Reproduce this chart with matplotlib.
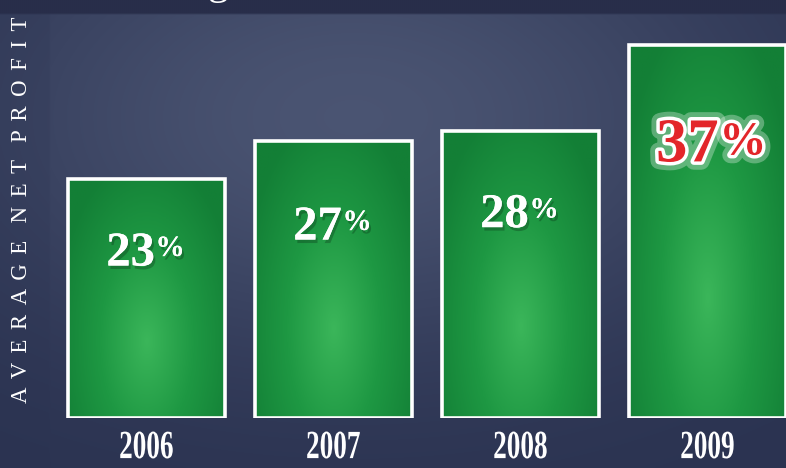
import numpy as np
import matplotlib
matplotlib.use("Agg")
import matplotlib.pyplot as plt
import matplotlib.patheffects as pe
from matplotlib.colors import LinearSegmentedColormap
from matplotlib.textpath import TextPath
from matplotlib.patches import PathPatch
from matplotlib.font_manager import FontProperties
from matplotlib.transforms import Affine2D, ScaledTranslation

years = ["2006", "2007", "2008", "2009"]
profit = [23, 27, 28, 37]
ylabel = "AVERAGE NET PROFIT"

W, H = 786, 468
fig = plt.figure(figsize=(W / 100, H / 100), dpi=100)

# navy background with soft lighter patch
bg = fig.add_axes([0, 0, 1, 1], zorder=0)
yy, xx = np.mgrid[0:1:234j, 0:1:393j]   # yy=0 at top
base = np.array([42, 50, 80]) / 255.
light = np.array([76, 86, 116]) / 255.
glow = np.exp(-((xx - 0.45) ** 2 / 0.25 + (yy - 0.25) ** 2 / 0.25))
glow = np.clip(glow, 0, 1) * 0.95
img = base + glow[..., None] * (light - base)
img[:, :int(393 * 50 / W)] = img[:, :int(393 * 50 / W)] * 0.8 + 0.2 * base
img[:int(234 * 14 / H)] = np.array([40, 46, 74]) / 255.
bg.imshow(img, extent=[0, 1, 0, 1], aspect="auto", origin="upper",
          interpolation="bilinear")
bg.axis("off")

base_v = -1.8          # axis baseline (bars start a little below 0)
ppu = 9.62             # pixels per percentage point
ax = fig.add_axes([53 / W, 50 / H, 733 / W, 418 / H], zorder=1)
ax.axis("off")

x = np.arange(len(years))
bw = 0.84
heights = [v - base_v for v in profit]
bars = ax.bar(x, heights, bottom=base_v, width=bw, facecolor="none",
              edgecolor="white", linewidth=2.6, zorder=3)

gcmap = LinearSegmentedColormap.from_list("g", ["#137f36", "#1e9843", "#3bb65a"])
gy, gx = np.mgrid[0:1:120j, 0:1:100j]   # gy=0 at top of bar
for xi, v, b in zip(x, profit, bars):
    r = np.sqrt(((gx - 0.5) / 0.6) ** 2 + ((gy - 0.68) / 0.8) ** 2)
    g = np.clip(1 - r, 0, 1)
    im = ax.imshow(g, cmap=gcmap, vmin=0, vmax=1, origin="upper",
                   extent=[xi - bw / 2, xi + bw / 2, base_v, v], aspect="auto", zorder=2)
    im.set_clip_path(b)

ax.set_xlim(-0.5, -0.5 + 733 / 187)
ax.set_ylim(base_v, base_v + 418 / ppu)

serif = ["Liberation Serif", "DejaVu Serif"]
shadow = [pe.withSimplePatchShadow(offset=(1.5, -2.5), shadow_rgbFace="black", alpha=0.22),
          pe.Normal()]

# label baseline distance below bar top, in points
drop = [-62, -71, -69, -84]

for xi, v, d in zip(x[:3], profit[:3], drop[:3]):
    ax.annotate(str(v), (xi, v), xytext=(6, d), textcoords="offset points",
                ha="right", va="baseline", fontsize=35, fontweight="bold",
                family=serif, color="white", path_effects=shadow, zorder=5)
    ax.annotate("%", (xi, v), xytext=(6.5, d + 7), textcoords="offset points",
                ha="left", va="baseline", fontsize=21, fontweight="bold",
                family=serif, color="white", path_effects=shadow, zorder=5)

# highlighted last year
red_fx = [pe.withStroke(linewidth=12, foreground=(1, 1, 1, 0.3)),
          pe.withStroke(linewidth=5, foreground="white")]
ax.annotate(str(profit[3]), (x[3], profit[3]), xytext=(8, drop[3]),
            textcoords="offset points", ha="right", va="baseline", fontsize=45,
            fontweight="bold", family=serif, color="#e3262a", path_effects=red_fx,
            zorder=5)
ax.annotate("%", (x[3], profit[3]), xytext=(8.5, drop[3] + 5),
            textcoords="offset points", ha="left", va="baseline", fontsize=34,
            fontweight="bold", family=serif, color="#e3262a", path_effects=red_fx,
            zorder=5)

# condensed bold year labels
fp = FontProperties(family=serif, weight="bold")
for xi, yr in zip(x, years):
    tp = TextPath((0, 0), yr, size=40, prop=fp)
    ext = tp.get_extents()
    cx, cy = (ext.x0 + ext.x1) / 2, (ext.y0 + ext.y1) / 2
    tr = (Affine2D().translate(-cx, -cy).scale(0.68 * 27 / ext.height, 27 / ext.height)
          + ScaledTranslation(xi, base_v - 27 / ppu, ax.transData))
    ax.add_patch(PathPatch(tp, transform=tr, facecolor="white", edgecolor="none",
                           clip_on=False, zorder=5))

gap = " \u2006"
fig.text(22 / W, 1 - 210 / H, "   ".join(gap.join(w) for w in ylabel.split()),
         rotation=90, ha="center", va="center", fontsize=16.5,
         family=serif, color="white")

# descender of the cropped title above the chart
fig.text(218 / W, 1 + 6 / H, "g", ha="center", va="baseline", fontsize=30,
         family=serif, color="white")

fig.savefig("out.png", dpi=100)
